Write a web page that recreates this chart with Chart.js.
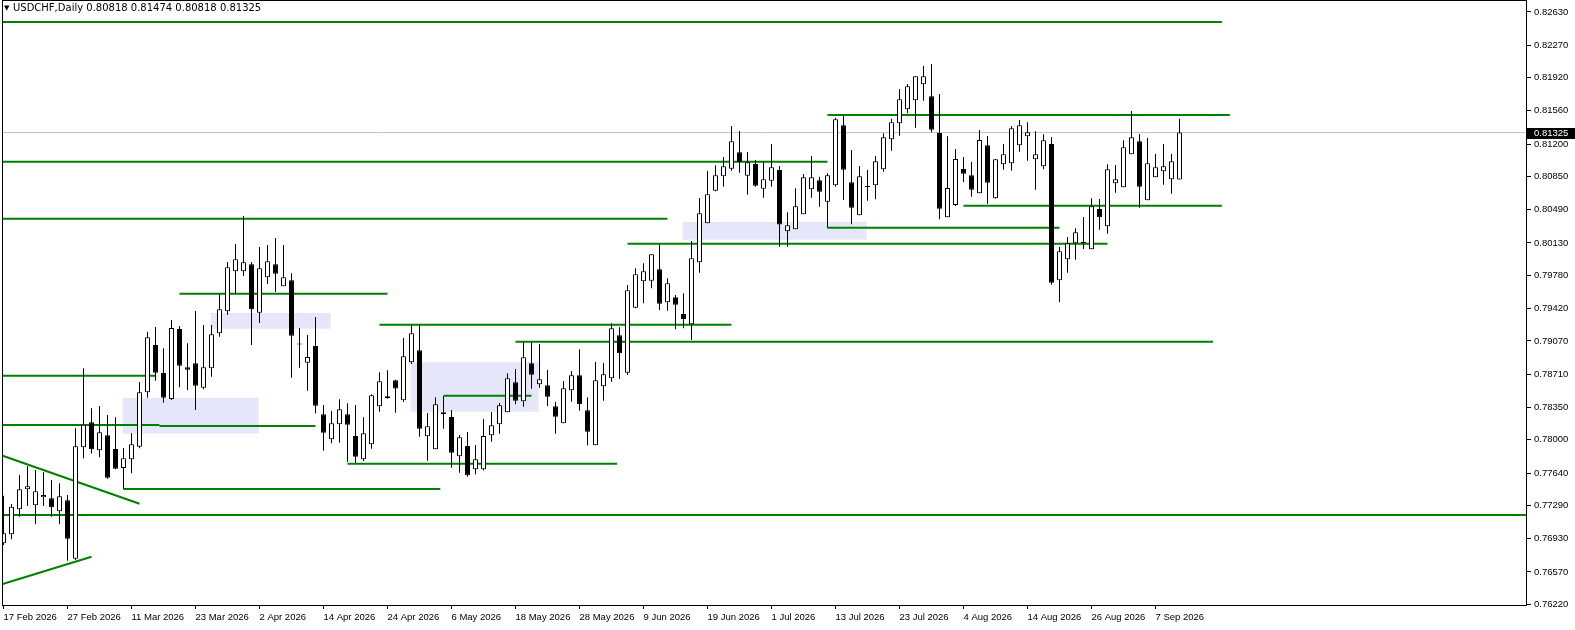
<!DOCTYPE html>
<html>
<head>
<meta charset="utf-8">
<script src="https://cdn.jsdelivr.net/npm/chart.js@4.4.1/dist/chart.umd.min.js"></script>
<style>
  html, body { margin: 0; padding: 0; background: #fff; }
</style>
</head>
<body>
<canvas id="chart" width="1575" height="630"></canvas>
<script>
// USDCHF daily, one entry per bar (17 Feb 2026 .. 10 Sep 2026)
const opens = [
  0.76879, 0.76977, 0.77247, 0.77464, 0.77291, 0.77377, 0.77366, 0.77226, 0.77345, 0.76713,
  0.77918, 0.78189, 0.77886, 0.78048, 0.77900, 0.77694, 0.77789, 0.77925, 0.78514, 0.79026,
  0.78723, 0.78441, 0.79199, 0.78784, 0.78828, 0.78563, 0.78774, 0.79152, 0.79391, 0.79823,
  0.79823, 0.79899, 0.79375, 0.79759, 0.79899, 0.79661, 0.79726, 0.79037, 0.78834, 0.79015,
  0.78276, 0.78005, 0.78167, 0.78276, 0.78041, 0.77789, 0.77951, 0.78362, 0.78470, 0.78644,
  0.78427, 0.78838, 0.78968, 0.78038, 0.77897, 0.78276, 0.78246, 0.77821, 0.77932, 0.77680,
  0.77680, 0.78048, 0.78167, 0.78297, 0.78622, 0.78416, 0.78828, 0.78600, 0.78590, 0.78362,
  0.78178, 0.78535, 0.78698, 0.78319, 0.77940, 0.78579, 0.78665, 0.79131, 0.78726, 0.79429,
  0.79715, 0.79722, 0.79845, 0.79488, 0.79542, 0.79361, 0.79250, 0.79921, 0.80343, 0.80696,
  0.80852, 0.80934, 0.81112, 0.80858, 0.80985, 0.80718, 0.80804, 0.80920, 0.80256, 0.80278,
  0.80440, 0.80711, 0.80808, 0.80577, 0.80754, 0.81404, 0.80787, 0.80430, 0.80736, 0.80754,
  0.80928, 0.81252, 0.81425, 0.81577, 0.81674, 0.81848, 0.81718, 0.81320, 0.80408, 0.80541,
  0.80931, 0.80863, 0.80668, 0.81187, 0.80614, 0.80982, 0.80992, 0.81187, 0.81285, 0.81036,
  0.80960, 0.81201, 0.79726, 0.79953, 0.80127, 0.80133, 0.80062, 0.80498, 0.80311, 0.80776,
  0.80733, 0.81090, 0.81231, 0.80592, 0.80841, 0.80906, 0.80819, 0.80818
];
const highs = [
  0.77395, 0.77305, 0.77619, 0.77716, 0.77673, 0.77648, 0.77565, 0.77529, 0.77402, 0.78124,
  0.78774, 0.78341, 0.78366, 0.78268, 0.78243, 0.77911, 0.78070, 0.78625, 0.79170, 0.79221,
  0.78990, 0.79296, 0.79231, 0.79044, 0.79394, 0.79242, 0.79242, 0.79585, 0.79924, 0.80119,
  0.80422, 0.79924, 0.80087, 0.80108, 0.80184, 0.80108, 0.79802, 0.79210, 0.79134, 0.79329,
  0.78376, 0.78311, 0.78438, 0.78395, 0.78376, 0.78243, 0.78492, 0.78730, 0.78752, 0.78650,
  0.79102, 0.79242, 0.79242, 0.78290, 0.78460, 0.78474, 0.78322, 0.78048, 0.78084, 0.77943,
  0.78225, 0.78300, 0.78398, 0.78719, 0.78766, 0.79055, 0.79055, 0.79037, 0.78755, 0.78412,
  0.78636, 0.78744, 0.78979, 0.78460, 0.78842, 0.78831, 0.79261, 0.79217, 0.79675, 0.79856,
  0.79910, 0.80007, 0.80116, 0.79748, 0.79567, 0.79585, 0.80151, 0.80617, 0.80909, 0.80971,
  0.81061, 0.81396, 0.81342, 0.81115, 0.81028, 0.81010, 0.81201, 0.80963, 0.80462, 0.80722,
  0.80877, 0.81072, 0.80847, 0.80884, 0.81486, 0.81512, 0.81136, 0.80963, 0.80920, 0.81072,
  0.81317, 0.81475, 0.81797, 0.81851, 0.81934, 0.82046, 0.82067, 0.81742, 0.81285, 0.81147,
  0.81061, 0.81007, 0.81353, 0.81288, 0.81040, 0.81201, 0.81396, 0.81461, 0.81436, 0.81339,
  0.81306, 0.81277, 0.80087, 0.80195, 0.80289, 0.80411, 0.80614, 0.80606, 0.80982, 0.80974,
  0.81241, 0.81558, 0.81310, 0.81266, 0.81093, 0.81201, 0.81093, 0.81474
];
const lows = [
  0.76861, 0.76923, 0.77167, 0.77283, 0.77085, 0.77283, 0.77167, 0.77085, 0.76691, 0.76699,
  0.77799, 0.77853, 0.77810, 0.77579, 0.77680, 0.77467, 0.77637, 0.77908, 0.78455, 0.78639,
  0.78401, 0.78430, 0.78568, 0.78539, 0.78322, 0.78546, 0.78683, 0.79116, 0.79350, 0.79575,
  0.79773, 0.79026, 0.79264, 0.79686, 0.79599, 0.79661, 0.78672, 0.78780, 0.78531, 0.78286,
  0.77882, 0.77962, 0.77968, 0.77759, 0.77748, 0.77770, 0.77903, 0.78304, 0.78444, 0.78293,
  0.78409, 0.78820, 0.78033, 0.77773, 0.77897, 0.78120, 0.77698, 0.77643, 0.77600, 0.77626,
  0.77669, 0.77979, 0.78066, 0.78297, 0.78384, 0.78358, 0.78553, 0.78563, 0.78366, 0.78066,
  0.78178, 0.78412, 0.78315, 0.77940, 0.77940, 0.78423, 0.78629, 0.78658, 0.78701, 0.79423,
  0.79477, 0.79639, 0.79405, 0.79397, 0.79196, 0.79207, 0.79080, 0.79808, 0.80343, 0.80689,
  0.80739, 0.80912, 0.80891, 0.80653, 0.80739, 0.80620, 0.80739, 0.80090, 0.80090, 0.80278,
  0.80440, 0.80620, 0.80523, 0.80295, 0.80739, 0.80595, 0.80332, 0.80430, 0.80588, 0.80603,
  0.80902, 0.81129, 0.81291, 0.81534, 0.81378, 0.81670, 0.81328, 0.80386, 0.80408, 0.80530,
  0.80790, 0.80631, 0.80668, 0.80555, 0.80610, 0.80923, 0.80912, 0.81118, 0.81021, 0.80707,
  0.80928, 0.79678, 0.79488, 0.79808, 0.79949, 0.80065, 0.80062, 0.80274, 0.80230, 0.80674,
  0.80733, 0.81090, 0.80512, 0.80592, 0.80841, 0.80761, 0.80663, 0.80818
];
const closes = [
  0.76988, 0.77276, 0.77464, 0.77496, 0.77442, 0.77402, 0.77269, 0.77388, 0.76929, 0.77929,
  0.78163, 0.77897, 0.78081, 0.77589, 0.77687, 0.77799, 0.77951, 0.78514, 0.79109, 0.78726,
  0.78455, 0.79210, 0.78802, 0.78758, 0.78585, 0.78784, 0.79142, 0.79412, 0.79867, 0.79953,
  0.79921, 0.79412, 0.79856, 0.79932, 0.79798, 0.79759, 0.79126, 0.79030, 0.78896, 0.78369,
  0.78077, 0.78178, 0.78330, 0.78163, 0.77817, 0.78070, 0.78481, 0.78633, 0.78453, 0.78555,
  0.78903, 0.79152, 0.78120, 0.78146, 0.78384, 0.78297, 0.77860, 0.78027, 0.77615, 0.77789,
  0.78041, 0.78157, 0.78373, 0.78665, 0.78423, 0.78893, 0.78704, 0.78654, 0.78466, 0.78250,
  0.78557, 0.78698, 0.78384, 0.78087, 0.78644, 0.78709, 0.79207, 0.78936, 0.79618, 0.79791,
  0.79823, 0.80007, 0.79473, 0.79694, 0.79462, 0.79307, 0.79964, 0.80451, 0.80657, 0.80863,
  0.80960, 0.81231, 0.81003, 0.81003, 0.80750, 0.80819, 0.80949, 0.80330, 0.80321, 0.80527,
  0.80841, 0.80841, 0.80685, 0.80863, 0.81469, 0.80923, 0.80512, 0.80852, 0.80740, 0.81014,
  0.81274, 0.81436, 0.81685, 0.81826, 0.81934, 0.81934, 0.81356, 0.80501, 0.80725, 0.81039,
  0.80880, 0.80707, 0.81245, 0.80782, 0.81036, 0.81090, 0.81371, 0.81404, 0.81328, 0.81090,
  0.81241, 0.79700, 0.80040, 0.80127, 0.80246, 0.80130, 0.80527, 0.80408, 0.80928, 0.80819,
  0.81166, 0.81274, 0.80739, 0.80992, 0.80949, 0.80960, 0.81014, 0.81325
];

// axis labels
const dateTicks = ['17 Feb 2026', '27 Feb 2026', '11 Mar 2026', '23 Mar 2026', '2 Apr 2026',
  '14 Apr 2026', '24 Apr 2026', '6 May 2026', '18 May 2026', '28 May 2026', '9 Jun 2026',
  '19 Jun 2026', '1 Jul 2026', '13 Jul 2026', '23 Jul 2026', '4 Aug 2026', '14 Aug 2026',
  '26 Aug 2026', '7 Sep 2026'];
const tickBars = [0, 8, 16, 24, 32, 40, 48, 56, 64, 72, 80, 88, 96, 104, 112, 120, 128, 136, 144];
const priceTicks = ['0.82630', '0.82270', '0.81920', '0.81560', '0.81200', '0.80850', '0.80490',
  '0.80130', '0.79780', '0.79420', '0.79070', '0.78710', '0.78350', '0.78000', '0.77640',
  '0.77290', '0.76930', '0.76570', '0.76220'];

// horizontal support / resistance lines (bar index from..to, price)
const levelFrom  = [-0.2, 103, -0.2, -0.2, 120, 103, 78, 22, 47, 64, -0.2, 55, -0.2, 19.5, 43, 15, -0.2];
const levelTo    = [152.3, 153.3, 103, 83, 152.3, 132, 138, 48, 91, 151.2, 19, 66, 19.5, 39, 76.7, 54.6, 190.5];
const levelPrice = [0.82522, 0.81515, 0.81010, 0.80393, 0.80533, 0.80295, 0.80122, 0.79581, 0.79246,
  0.79061, 0.78693, 0.78477, 0.78160, 0.78149, 0.77741, 0.77467, 0.77186];

// triangle at the start of the chart
const trendFrom = [-0.1, -0.1];
const trendTo   = [17, 11];
const trendP1   = [0.77827, 0.76439];
const trendP2   = [0.77308, 0.76734];

// shaded zones
const zoneFrom   = [14.9, 25.9, 50.9, 84.9];
const zoneTo     = [31.9, 40.9, 66.9, 107.9];
const zoneTop    = [0.78452, 0.79372, 0.78842, 0.80357];
const zoneBottom = [0.78068, 0.79202, 0.78304, 0.80166];

const symbol = 'USDCHF,Daily';
const X_MIN = -0.1875, X_MAX = 190.4375;
const last = closes.length - 1;
const FONT = "'DejaVu Sans', Tahoma, sans-serif";
const AXIS_FONT = "'Liberation Sans', Arial, sans-serif";

const bodies = opens.map((o, i) => ({ x: i, y: [o, closes[i]] }));
const wicks = lows.map((l, i) => ({ x: i, y: [l, highs[i]] }));
const bodyColors = opens.map((o, i) => closes[i] >= o ? '#ffffff' : '#000000');

const datasets = [
  {
    type: 'bar', order: 0, data: bodies,
    backgroundColor: bodyColors, borderColor: '#000', borderWidth: 1,
    borderSkipped: false, barThickness: 5, grouped: false, minBarLength: 1, inflateAmount: 0
  },
  {
    type: 'bar', order: 1, data: wicks,
    backgroundColor: '#000', borderWidth: 0, barThickness: 1, grouped: false, inflateAmount: 0
  }
];

levelPrice.forEach((p, k) => {
  datasets.push({
    type: 'line', order: 2,
    data: [{ x: levelFrom[k], y: p }, { x: levelTo[k], y: p }],
    borderColor: '#008000', borderWidth: 2, pointRadius: 0, fill: false
  });
});

trendP1.forEach((p, k) => {
  datasets.push({
    type: 'line', order: 2,
    data: [{ x: trendFrom[k], y: p }, { x: trendTo[k], y: trendP2[k] }],
    borderColor: '#008000', borderWidth: 2, pointRadius: 0, fill: false
  });
});

// bid line
datasets.push({
  type: 'line', order: 3,
  data: [{ x: X_MIN, y: closes[last] }, { x: X_MAX, y: closes[last] }],
  borderColor: '#c0c0c0', borderWidth: 1, pointRadius: 0, fill: false
});

zoneTop.forEach((t, k) => {
  const b = zoneBottom[k];
  datasets.push({
    type: 'line', order: 4,
    data: [
      { x: zoneFrom[k], y: t }, { x: zoneTo[k], y: t },
      { x: zoneTo[k], y: b }, { x: zoneFrom[k], y: b }, { x: zoneFrom[k], y: t }
    ],
    borderColor: 'rgba(0,0,0,0)', borderWidth: 0, pointRadius: 0,
    backgroundColor: '#e6e6fa', fill: 'shape'
  });
});

// frame, title and current price tag
const decor = {
  id: 'decor',
  afterDraw(chart) {
    const { ctx, chartArea: a } = chart;
    const y = chart.scales.y;
    ctx.save();
    ctx.strokeStyle = '#000';
    ctx.lineWidth = 1;
    ctx.strokeRect(Math.round(a.left) + 0.5, 0.5, Math.round(a.right - a.left) - 1, Math.round(a.bottom));

    const py = Math.round(y.getPixelForValue(closes[last]));
    ctx.fillStyle = '#000';
    ctx.fillRect(a.right, py - 5, chart.width - a.right, 11);
    ctx.fillStyle = '#fff';
    ctx.font = '9.5px ' + AXIS_FONT;
    ctx.textBaseline = 'middle';
    ctx.fillText(closes[last].toFixed(5), a.right + 7, py + 0.5);

    ctx.fillStyle = '#000';
    ctx.font = '7px ' + FONT;
    ctx.fillText('\u25BC', 4, 8);
    ctx.font = '10px ' + FONT;
    const ohlc = [opens[last], highs[last], lows[last], closes[last]].map(v => v.toFixed(5)).join(' ');
    ctx.fillText(symbol + ' ' + ohlc, 13, 8);
    ctx.restore();
  }
};

new Chart(document.getElementById('chart'), {
  type: 'bar',
  data: { datasets },
  plugins: [decor],
  options: {
    responsive: false,
    devicePixelRatio: 1,
    animation: false,
    events: [],
    layout: { padding: { left: 2, top: 1, right: 0, bottom: 0 } },
    plugins: { legend: { display: false }, tooltip: { enabled: false } },
    scales: {
      x: {
        type: 'linear', min: X_MIN, max: X_MAX, offset: false,
        afterBuildTicks: s => { s.ticks = tickBars.map(v => ({ value: v })); },
        afterFit: s => { s.height = 25; s.paddingLeft = 0; s.paddingRight = 0; },
        ticks: {
          callback: (v, i) => dateTicks[i], align: 'start', maxRotation: 0, autoSkip: false,
          font: { family: AXIS_FONT, size: 9.5 }, color: '#000', padding: 3
        },
        grid: { drawOnChartArea: false, tickLength: 4, color: '#000', offset: false },
        border: { display: false }
      },
      y: {
        type: 'linear', position: 'right', min: 0.76212, max: 0.82749,
        afterBuildTicks: s => { s.ticks = priceTicks.map(v => ({ value: parseFloat(v) })); },
        afterFit: s => { s.width = 48; s.paddingTop = 0; s.paddingBottom = 0; },
        ticks: {
          callback: (v, i) => priceTicks[i], autoSkip: false,
          font: { family: AXIS_FONT, size: 9.5 }, color: '#000', padding: 3
        },
        grid: { drawOnChartArea: false, tickLength: 4, color: '#000' },
        border: { display: false }
      }
    }
  }
});
</script>
</body>
</html>
